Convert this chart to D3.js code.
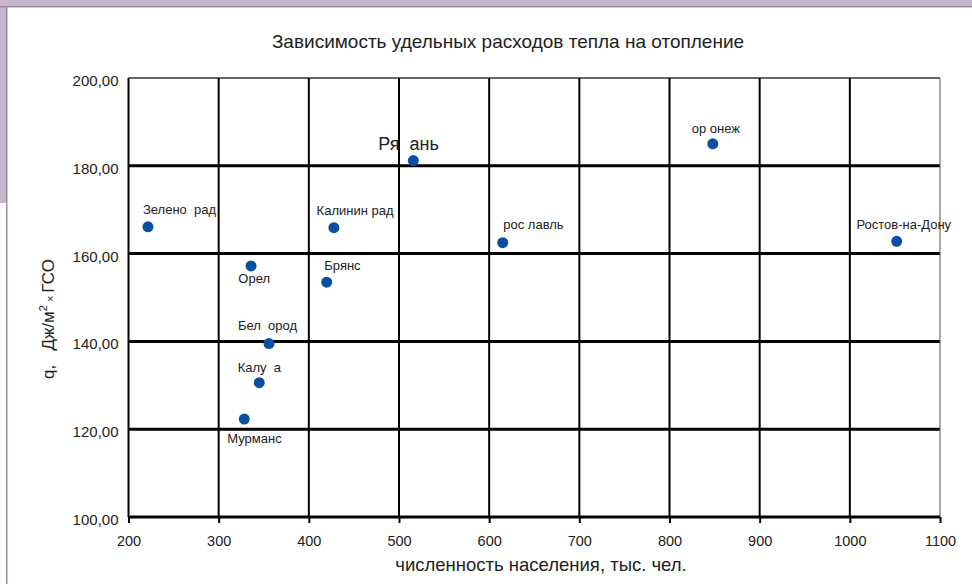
<!DOCTYPE html>
<html>
<head>
<meta charset="utf-8">
<script src="https://cdn.jsdelivr.net/npm/d3@7"></script>
<style>
  html, body { margin: 0; padding: 0; background: #fff; }
  svg { display: block; font-family: "Liberation Sans", Arial, Helvetica, sans-serif; }
  text { white-space: pre; }
</style>
</head>
<body>
<svg id="chart" width="972" height="584"></svg>
<script>
// ---- data ----
const cities = ["Зелено  рад", "Орел", "Бел  ород", "Калу  а", "Мурманс", "Калинин рад", "Брянс", "Ря  ань", "рос лавль", "ор онеж", "Ростов-на-Дону"];
const population = [221.6, 335.9, 355.8, 345, 328.4, 427.8, 419.8, 515.9, 615, 848, 1052];
const heatUse = [166.1, 157.2, 139.5, 130.6, 122.3, 165.9, 153.5, 181.2, 162.5, 185.0, 162.8];
const xTicks = [200, 300, 400, 500, 600, 700, 800, 900, 1000, 1100];
const yTicks = [100, 120, 140, 160, 180, 200];
const titleText = "Зависимость удельных расходов тепла на отопление";
const xTitle = "численность населения, тыс. чел.";

// label placement (offset of label start / baseline from its point), and sizes
const labelOffsets = [[-5, -13], [-12.7, 17], [-31, -13.7], [-21.6, -11], [-17, 24.3], [-17.3, -12.7], [-2.4, -12.3], [-35, -10.7], [0.6, -13.5], [-21, -11], [-40.3, -12]];
const labelSizes = [13, 13, 13, 13, 13, 13, 13, 18, 13, 13, 13];

const svg = d3.select("#chart");

// ---- frame ----
svg.append("rect").attr("x", 0).attr("y", 0).attr("width", 972).attr("height", 7).attr("fill", "#c5b6cc");
svg.append("rect").attr("x", 0).attr("y", 0).attr("width", 7).attr("height", 203).attr("fill", "#c5b6cc");
svg.append("rect").attr("x", 0).attr("y", 6).attr("width", 972).attr("height", 1.5).attr("fill", "#a08aab");
svg.append("rect").attr("x", 6).attr("y", 6).attr("width", 1.5).attr("height", 578).attr("fill", "#a08aab");

// ---- scales ----
const x = d3.scaleLinear().domain([200, 1100]).range([128.5, 940]);
const y = d3.scaleLinear().domain([100, 200]).range([517, 78]);

const g = svg.append("g");

// horizontal grid lines
g.selectAll("line.hgrid").data(yTicks).join("line")
  .attr("class", "hgrid")
  .attr("x1", x(200)).attr("x2", x(1100))
  .attr("y1", d => y(d)).attr("y2", d => y(d))
  .attr("stroke", d => d === 200 ? "#333" : "#000")
  .attr("stroke-width", d => d === 200 ? 1.5 : 3);

// vertical grid lines
g.selectAll("line.vgrid").data(xTicks).join("line")
  .attr("class", "vgrid")
  .attr("x1", d => x(d)).attr("x2", d => x(d))
  .attr("y1", y(200)).attr("y2", y(100))
  .attr("stroke", d => d === 1100 ? "#555" : "#000")
  .attr("stroke-width", d => d === 1100 ? 1 : 2);

// x axis (ticks + labels)
const fmtY = v => d3.format(".2f")(v).replace(".", ",");
const xAxis = d3.axisBottom(x).tickValues(xTicks).tickSize(6).tickPadding(13).tickFormat(d3.format("d"));
const xg = svg.append("g").attr("transform", `translate(0,${y(100)})`).call(xAxis);
xg.select(".domain").remove();
xg.selectAll(".tick line").attr("stroke", "#000").attr("stroke-width", 2);
xg.selectAll(".tick text").attr("font-size", 14.5).attr("fill", "#222")
  .attr("font-family", "Liberation Sans, Arial, sans-serif");

// y axis labels
const yAxis = d3.axisLeft(y).tickValues(yTicks).tickSize(0).tickPadding(10).tickFormat(fmtY);
const yg = svg.append("g").attr("transform", `translate(${x(200)},0)`).call(yAxis);
yg.select(".domain").remove();
yg.selectAll(".tick text").attr("font-size", 15).attr("fill", "#222").attr("dy", "0.5em")
  .attr("font-family", "Liberation Sans, Arial, sans-serif");

// ---- points ----
const pts = cities.map((c, i) => ({ name: c, x: population[i], y: heatUse[i], off: labelOffsets[i], fs: labelSizes[i] }));
svg.selectAll("circle.pt").data(pts).join("circle")
  .attr("class", "pt")
  .attr("cx", d => x(d.x)).attr("cy", d => y(d.y)).attr("r", 5.5)
  .attr("fill", "#0b4fa3");

svg.selectAll("text.lbl").data(pts).join("text")
  .attr("class", "lbl")
  .attr("x", d => x(d.x) + d.off[0]).attr("y", d => y(d.y) + d.off[1])
  .attr("font-size", d => d.fs).attr("fill", "#222")
  .text(d => d.name);

// ---- titles ----
svg.append("text").attr("x", 508).attr("y", 48).attr("text-anchor", "middle")
  .attr("font-size", 19).attr("fill", "#222").text(titleText);

svg.append("text").attr("x", 541).attr("y", 571).attr("text-anchor", "middle")
  .attr("font-size", 18.5).attr("fill", "#222").text(xTitle);

const yt = svg.append("text").attr("transform", "translate(54,319) rotate(-90)")
  .attr("text-anchor", "middle").attr("font-size", 17).attr("fill", "#222");
yt.append("tspan").text("q,   Дж/м");
yt.append("tspan").attr("font-size", 11).attr("dy", -7).text("2");
yt.append("tspan").attr("font-size", 11).attr("dy", 7).text(" × ");
yt.append("tspan").text("ГСО");
</script>
</body>
</html>
